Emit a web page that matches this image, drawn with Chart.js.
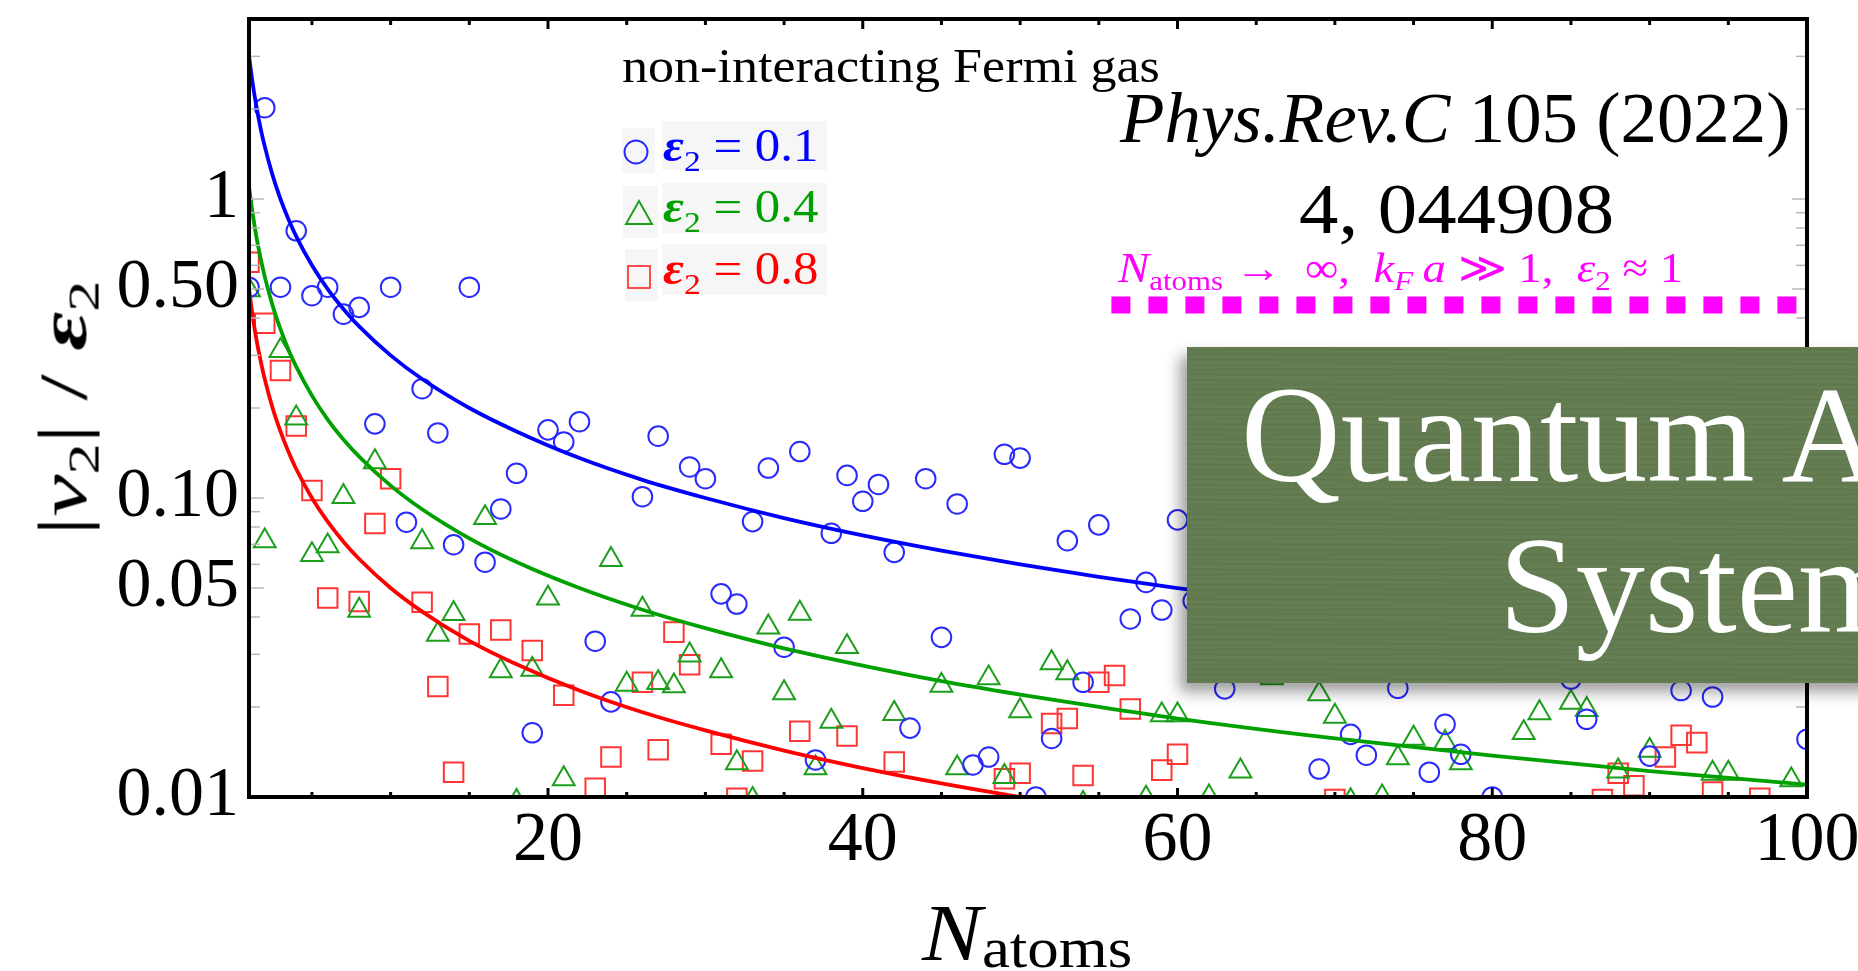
<!DOCTYPE html>
<html>
<head>
<meta charset="utf-8">
<title>Elliptic flow of a non-interacting Fermi gas</title>
<script src="https://cdn.jsdelivr.net/npm/chart.js@4/dist/chart.umd.min.js"></script>
<style>
  html, body { margin: 0; padding: 0; background: #fff; }
  #wrap { position: relative; width: 1858px; height: 971px; overflow: hidden; background: #fff;
          font-family: "Liberation Serif", "DejaVu Serif", serif; color: #000; }
  #plot { position: absolute; left: 0; top: 0; }
  .t { position: absolute; white-space: nowrap; line-height: 1; transform-origin: 0 0; }
  .sub { font-size: 0.66em; position: relative; top: 0.3em; }
  .sub.lo { top: 0.12em; font-size: 0.7em; }
  .box { position: absolute; background: #f6f6f6; }
  .mk { position: absolute; overflow: visible; }
  #slide { position: absolute; left: 1187px; top: 347px; width: 720px; height: 336px;
           background-color: #627b4f;
           background-image:
             repeating-linear-gradient(0deg, rgba(255,255,255,0.015) 0px, rgba(255,255,255,0.015) 2px, rgba(0,0,0,0.018) 2px, rgba(0,0,0,0.018) 5px),
             repeating-linear-gradient(1deg, rgba(0,0,0,0.012) 0px, rgba(0,0,0,0.012) 3px, rgba(255,255,255,0.012) 3px, rgba(255,255,255,0.012) 7px);
           box-shadow: -7px 9px 14px rgba(0,0,0,0.38); }
  .w { color: #fff; }
</style>
</head>
<body>
<div id="wrap">
  <canvas id="plot" width="1858" height="971"></canvas>

  <!-- inset legend -->
  <div class="t" data-x="622" data-b="82" data-fs="48" data-w="538">non-interacting Fermi gas</div>

  <div class="box" style="left:622px;top:128px;width:33px;height:45px"></div>
  <div class="box" style="left:662px;top:121px;width:165px;height:49px"></div>
  <svg class="mk" style="left:622px;top:138px" width="28" height="28"><circle cx="14" cy="14" r="11.5" fill="none" stroke="#2828ff" stroke-width="1.9"/></svg>
  <div class="t" data-x="663" data-b="162" data-fs="46" data-w="156" style="color:#0000ff"><b><i>ε</i></b><span class="sub">2</span> = 0.1</div>

  <div class="box" style="left:623px;top:186px;width:35px;height:52px"></div>
  <div class="box" style="left:662px;top:183px;width:165px;height:50px"></div>
  <svg class="mk" style="left:624px;top:198px" width="30" height="30"><polygon points="15,3 28,26 2,26" fill="none" stroke="#1a9e1a" stroke-width="1.9"/></svg>
  <div class="t" data-x="663" data-b="223" data-fs="46" data-w="156" style="color:#00a000"><b><i>ε</i></b><span class="sub">2</span> = 0.4</div>

  <div class="box" style="left:625px;top:249px;width:33px;height:52px"></div>
  <div class="box" style="left:662px;top:244px;width:165px;height:51px"></div>
  <svg class="mk" style="left:625px;top:263px" width="28" height="28"><rect x="3" y="3" width="22" height="22" fill="none" stroke="#ff3030" stroke-width="1.7"/></svg>
  <div class="t" data-x="663" data-b="285" data-fs="46" data-w="156" style="color:#ff0000"><b><i>ε</i></b><span class="sub">2</span> = 0.8</div>

  <!-- reference and limit annotations -->
  <div class="t" data-x="1455" data-b="142" data-fs="72" data-w="670" data-align="center"><i>Phys.Rev.C</i> 105 (2022)</div>
  <div class="t" data-x="1456" data-b="233" data-fs="72" data-w="315" data-align="center">4, 044908</div>
  <div class="t" data-x="1118" data-b="282" data-fs="42" data-w="565" style="color:#ff00ff"><i>N</i><span class="sub">atoms</span> → &nbsp;∞, &nbsp;<i>k</i><span class="sub"><i>F</i></span>&thinsp;<i>a</i> ≫ 1, &nbsp;<i>ε</i><span class="sub">2</span> ≈ 1</div>

  <!-- axis titles -->
  <div class="t" data-x="922" data-b="960" data-fs="80" data-w="210"><i>N</i><span class="sub lo">atoms</span></div>
  <div class="t" id="ytitle" data-cx="62" data-cy="408" data-fs="68" data-w="255">|<i>v</i><span class="sub">2</span>| / <b><i>ε</i></b><span class="sub">2</span></div>

  <!-- slide title panel -->
  <div id="slide"></div>
  <div class="t w" data-x="1241" data-b="482" data-fs="138">Quantum A</div>
  <div class="t w" data-x="1499" data-b="633" data-fs="138">System</div>
</div>

<script>
// ---- measured points: N (number of atoms) and |v2|/eps2 ----
const nEps01 = [1, 2, 3, 4, 5, 6, 7, 8, 9, 10, 11, 12, 13, 14, 15, 16, 17, 18, 19, 20,
  21, 22, 23, 24, 26, 27, 29, 30, 31, 32, 33, 34, 35, 36, 37, 38, 39, 40, 41, 42,
  43, 44, 45, 46, 47, 48, 49, 50, 51, 52, 53, 54, 55, 57, 58, 59, 60, 61, 63, 69,
  71, 72, 74, 76, 77, 78, 80, 85, 86, 90, 92, 94, 100];
const vEps01 = [0.507, 2.02, 0.507, 0.783, 0.475, 0.507, 0.412, 0.434, 0.177, 0.507, 0.083, 0.232, 0.165, 0.0698, 0.507, 0.061, 0.0919, 0.121, 0.0164, 0.169,
  0.154, 0.180, 0.0332, 0.0208, 0.101, 0.161, 0.127, 0.116, 0.0478, 0.0442, 0.0834, 0.126, 0.0317, 0.143, 0.0133, 0.0762, 0.119, 0.0975, 0.111, 0.0658,
  0.0170, 0.116, 0.0342, 0.0955, 0.0128, 0.0136, 0.140, 0.136, 0.0100, 0.0157, 0.072, 0.0242, 0.0813, 0.0394, 0.0522, 0.0422, 0.0845, 0.0453, 0.0230, 0.0124,
  0.0162, 0.0138, 0.0231, 0.0121, 0.0175, 0.0139, 0.0100, 0.0248, 0.0182, 0.0137, 0.0227, 0.0216, 0.0156];

const nEps04 = [1, 2, 3, 4, 5, 6, 7, 8, 9, 12, 13, 14, 16, 17, 18, 19, 20, 21, 24, 25,
  26, 27, 28, 29, 31, 32, 33, 34, 35, 36, 37, 38, 39, 42, 45, 46, 48, 49, 50, 52,
  53, 54, 58, 59, 60, 62, 64, 66, 69, 70, 71, 73, 74, 75, 77, 78, 82, 83, 85, 86,
  88, 90, 94, 95, 99];
const vEps04 = [0.496, 0.0718, 0.311, 0.185, 0.0646, 0.0691, 0.101, 0.0421, 0.132, 0.0713, 0.035, 0.041, 0.0859, 0.0264, 0.00965, 0.0267, 0.0462, 0.0115, 0.0622, 0.0238,
  0.0424, 0.0241, 0.0235, 0.0298, 0.0264, 0.0130, 0.0098, 0.0370, 0.0223, 0.0411, 0.0125, 0.0179, 0.0318, 0.0190, 0.0236, 0.0125, 0.0250, 0.0117, 0.0194, 0.0281,
  0.0260, 0.0095, 0.0099, 0.0188, 0.0188, 0.0100, 0.0122, 0.0250, 0.0221, 0.0186, 0.0097, 0.0100, 0.0135, 0.0157, 0.0152, 0.0130, 0.0164, 0.0191, 0.0207, 0.0196,
  0.0122, 0.0143, 0.0120, 0.0120, 0.0114];

const nEps08 = [1, 2, 3, 4, 5, 6, 8, 9, 10, 12, 13, 14, 15, 17, 19, 21, 23, 24, 26, 27,
  28, 29, 31, 32, 33, 36, 39, 42, 49, 50, 52, 53, 54, 55, 56, 57, 59, 60, 70, 87,
  88, 89, 91, 92, 93, 94, 97];
const vEps08 = [0.614, 0.384, 0.267, 0.174, 0.106, 0.0463, 0.0451, 0.0822, 0.116, 0.0448, 0.0234, 0.0121, 0.0351, 0.0362, 0.0309, 0.0219, 0.0107, 0.0136, 0.0242, 0.0144,
  0.0356, 0.0277, 0.0150, 0.0099, 0.0132, 0.0166, 0.0160, 0.0131, 0.0115, 0.0120, 0.0176, 0.0183, 0.0118, 0.0242, 0.0255, 0.0197, 0.0123, 0.0139, 0.0098, 0.0098,
  0.0120, 0.0109, 0.0136, 0.0161, 0.0152, 0.0104, 0.0099];

// ---- fitted trend curves, sampled along N ----
const curveN = [1, 1.25, 1.5, 1.75, 2, 2.5, 3, 3.5, 4, 5, 6, 7, 8, 10, 12, 15, 18, 22, 26, 30,
  35, 40, 45, 50, 55, 60, 70, 80, 90, 100];
const curveEps01 = [3.0, 2.4, 2.0, 1.71, 1.5, 1.2, 1.0, 0.857, 0.75, 0.6, 0.5, 0.429, 0.375, 0.3, 0.25, 0.2, 0.167, 0.136, 0.115, 0.1,
  0.0857, 0.075, 0.0667, 0.06, 0.0545, 0.05, 0.0429, 0.0375, 0.0333, 0.03];
const curveEps04 = [1.1, 0.88, 0.733, 0.629, 0.55, 0.44, 0.367, 0.314, 0.275, 0.22, 0.183, 0.157, 0.1375, 0.11, 0.0917, 0.0733, 0.0611, 0.05, 0.0423, 0.0367,
  0.0314, 0.0275, 0.0244, 0.022, 0.02, 0.0183, 0.0157, 0.01375, 0.0122, 0.011];
const curveEps08 = [0.5, 0.4, 0.333, 0.286, 0.25, 0.2, 0.167, 0.143, 0.125, 0.1, 0.0833, 0.0714, 0.0625, 0.05, 0.0417, 0.0333, 0.0278, 0.0227, 0.0192, 0.0167,
  0.0143, 0.0125, 0.0111, 0.01, 0.0091, 0.0083, 0.0071, 0.00625, 0.0056, 0.005];

// ---- large-N hydrodynamic limit ----
const limitN = [55.8, 100];
const limitV = [0.442, 0.442];

// ---- axis ticks ----
const xTickValues = [20, 40, 60, 80, 100];
const xTickLabels = ['20', '40', '60', '80', '100'];
const xMinorTicks = [5, 10, 15, 25, 30, 35, 45, 50, 55, 65, 70, 75, 85, 90, 95];
const yTickValues = [0.01, 0.05, 0.1, 0.5, 1];
const yTickLabels = ['0.01', '0.05', '0.10', '0.50', '1'];
const yMinorTicks = [0.02, 0.03, 0.04, 0.06, 0.07, 0.08, 0.09, 0.2, 0.3, 0.4, 0.6, 0.7, 0.8, 0.9, 2, 3];

const pts = (xs, ys) => xs.map((x, i) => ({ x: x, y: ys[i] }));
const FONT = '"Liberation Serif", "DejaVu Serif", serif';

// inward tick marks and the plot frame
const framePlugin = {
  id: 'frame',
  afterDraw(chart) {
    const { ctx, chartArea: a, scales: { x, y } } = chart;
    const seg = (x1, y1, x2, y2) => { ctx.beginPath(); ctx.moveTo(x1, y1); ctx.lineTo(x2, y2); ctx.stroke(); };
    ctx.save();
    ctx.lineCap = 'butt';
    ctx.strokeStyle = '#b8b8b8';
    ctx.lineWidth = 1.5;
    yMinorTicks.forEach(v => {
      const py = y.getPixelForValue(v);
      seg(a.left, py, a.left + 11, py);
      seg(a.right, py, a.right - 11, py);
    });
    yTickValues.forEach(v => {
      const py = y.getPixelForValue(v);
      seg(a.left, py, a.left + 15, py);
      seg(a.right, py, a.right - 15, py);
    });
    ctx.strokeStyle = '#000';
    ctx.lineWidth = 3;
    xMinorTicks.forEach(v => {
      const px = x.getPixelForValue(v);
      seg(px, a.bottom, px, a.bottom - 5);
      seg(px, a.top, px, a.top + 6);
    });
    xTickValues.forEach(v => {
      const px = x.getPixelForValue(v);
      seg(px, a.bottom, px, a.bottom - 9);
      seg(px, a.top, px, a.top + 10);
    });
    ctx.lineWidth = 4;
    ctx.strokeRect(a.left, a.top, a.right - a.left, a.bottom - a.top);
    ctx.restore();
  }
};

const scatterSet = (label, data, style, radius, color, order) => ({
  type: 'scatter', label, data, pointStyle: style, pointRadius: radius, pointHoverRadius: radius,
  borderColor: color, backgroundColor: 'rgba(0,0,0,0)', pointBorderWidth: 2, borderWidth: 2,
  showLine: false, clip: 0, order
});
const curveSet = (label, data, color, order) => ({
  type: 'line', label, data, borderColor: color, borderWidth: 3.8, pointRadius: 0,
  cubicInterpolationMode: 'monotone', fill: false, clip: 0, order
});

new Chart(document.getElementById('plot'), {
  type: 'scatter',
  data: {
    datasets: [
      { type: 'line', label: 'limit', data: pts(limitN, limitV), borderColor: '#ff00ff', borderWidth: 17,
        borderDash: [19, 18], borderCapStyle: 'butt', pointRadius: 0, fill: false, clip: 0, order: 0 },
      curveSet('fit eps2=0.1', pts(curveN, curveEps01), '#0000ff', 1),
      curveSet('fit eps2=0.4', pts(curveN, curveEps04), '#00a000', 1),
      curveSet('fit eps2=0.8', pts(curveN, curveEps08), '#ff0000', 1),
      scatterSet('eps2=0.1', pts(nEps01, vEps01), 'circle', 9.8, '#2a2aff', 2),
      scatterSet('eps2=0.4', pts(nEps04, vEps04), 'triangle', 12.6, '#1c9e1c', 2),
      scatterSet('eps2=0.8', pts(nEps08, vEps08), 'rect', 13.8, '#ff3535', 2)
    ]
  },
  options: {
    responsive: false,
    animation: false,
    events: [],
    layout: { padding: { left: 0, top: 19, right: 51, bottom: 0 }, autoPadding: false },
    plugins: { legend: { display: false }, tooltip: { enabled: false } },
    scales: {
      x: {
        type: 'linear', position: 'bottom', min: 1, max: 100,
        grid: { display: false, drawTicks: false }, border: { display: false },
        afterBuildTicks: s => { s.ticks = xTickValues.map(v => ({ value: v })); },
        afterFit: s => { s.height = 174; s.paddingLeft = 0; s.paddingRight = 0; s.paddingTop = 0; s.paddingBottom = 0; },
        ticks: { autoSkip: false, maxRotation: 0, padding: 3, color: '#000',
                 font: { family: FONT, size: 70 }, callback: (v, i) => xTickLabels[i] }
      },
      y: {
        type: 'logarithmic', position: 'left', min: 0.01, max: 4,
        grid: { display: false, drawTicks: false }, border: { display: false },
        afterBuildTicks: s => { s.ticks = yTickValues.map(v => ({ value: v })); },
        afterFit: s => { s.width = 249; s.paddingLeft = 0; s.paddingRight = 0; s.paddingTop = 0; s.paddingBottom = 0; },
        ticks: { autoSkip: false, padding: 10, color: '#000',
                 font: { family: FONT, size: 70 }, callback: (v, i) => yTickLabels[i] }
      }
    }
  },
  plugins: [framePlugin]
});

// position the text layers by baseline, fitting widths where given
function layoutText() {
  document.querySelectorAll('.t').forEach(el => {
    const fs = parseFloat(el.dataset.fs);
    el.style.fontSize = fs + 'px';
    el.style.transform = 'none';
    const natural = el.offsetWidth;
    const target = el.dataset.w ? parseFloat(el.dataset.w) : natural;
    const sx = target / natural;
    if (el.dataset.cx) {
      // rotated title, reading bottom to top
      el.style.transformOrigin = '50% 50%';
      el.style.left = (parseFloat(el.dataset.cx) - natural / 2) + 'px';
      el.style.top = (parseFloat(el.dataset.cy) - fs / 2) + 'px';
      el.style.transform = 'rotate(-90deg) scaleX(' + sx + ')';
      return;
    }
    let left = parseFloat(el.dataset.x);
    if (el.dataset.align === 'center') left -= target / 2;
    el.style.left = left + 'px';
    el.style.top = (parseFloat(el.dataset.b) - 0.8375 * fs) + 'px';
    el.style.transform = 'scaleX(' + sx + ')';
  });
}
layoutText();
if (document.fonts && document.fonts.ready) document.fonts.ready.then(layoutText);
</script>
</body>
</html>
